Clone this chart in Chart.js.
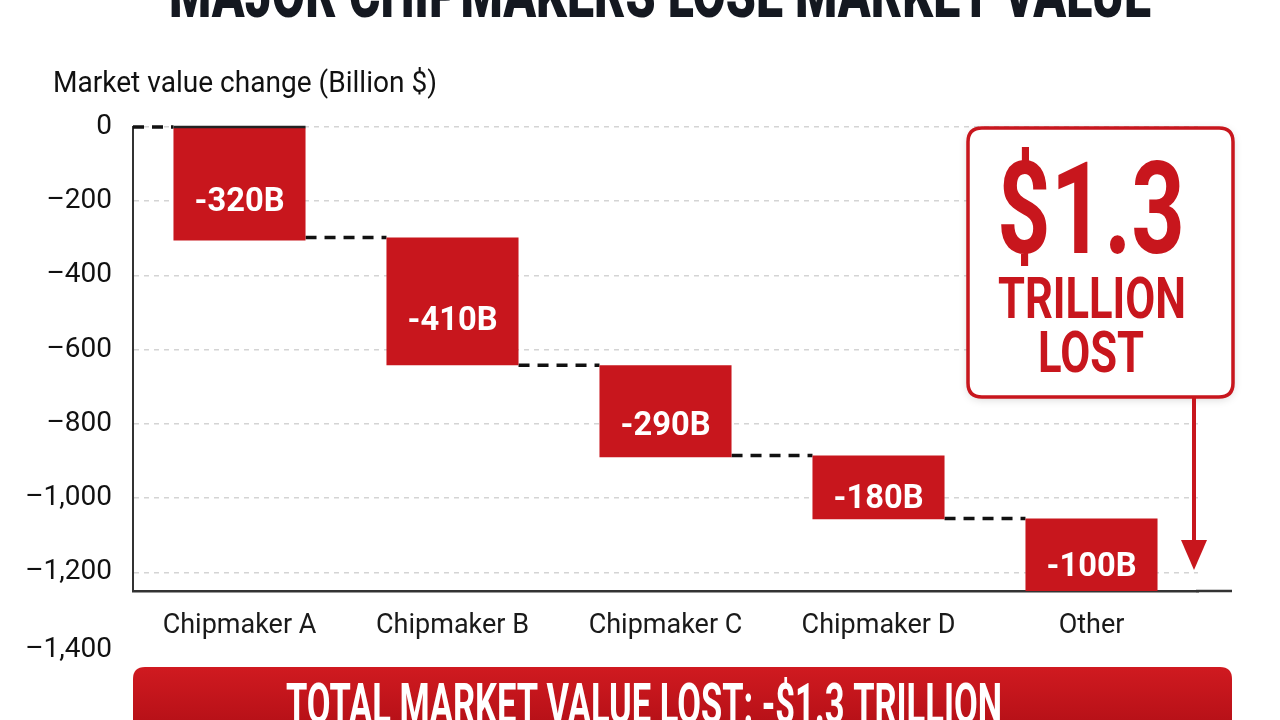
<!DOCTYPE html>
<html>
<head>
<meta charset="utf-8">
<script src="https://cdn.jsdelivr.net/npm/chart.js@4.4.1/dist/chart.umd.min.js"></script>
<style>
  html, body { margin: 0; padding: 0; background: #fff; }
  #wrap { width: 1280px; height: 720px; }
</style>
</head>
<body>
<div id="wrap"><canvas id="waterfall" width="1280" height="720"></canvas></div>
<script>
// --- data ---
const categories = ["Chipmaker A", "Chipmaker B", "Chipmaker C", "Chipmaker D", "Other"];
// value printed on each bar (billion $)
const changeLabels = [-320, -410, -290, -180, -100];
// where each bar starts / ends on the drawn axis
const barStarts = [0, -298, -642, -885, -1055];
const barEnds = [-306, -642, -890, -1057, -1250];
const yTicks = [0, -200, -400, -600, -800, -1000, -1200, -1400];
const totalLost = "$1.3";

const RED = "#c8161d";
const INK = "#141820";
const FONT = "Roboto, 'Noto Sans', sans-serif";

function fmtTick(v) {
    if (v === 0) return "0";
    return "\u2013" + Math.abs(v).toLocaleString("en-US");
}

function drawText(ctx, str, x, y, size, weight, color, align, maxWidth) {
    ctx.save();
    ctx.font = `${weight} ${size}px ${FONT}`;
    ctx.fillStyle = color;
    ctx.textAlign = align || "center";
    ctx.textBaseline = "alphabetic";
    if (maxWidth) ctx.fillText(str, x, y, maxWidth);
    else ctx.fillText(str, x, y);
    ctx.restore();
}

function roundRect(ctx, x, y, w, h, r) {
    ctx.beginPath();
    ctx.moveTo(x + r, y);
    ctx.lineTo(x + w - r, y);
    ctx.quadraticCurveTo(x + w, y, x + w, y + r);
    ctx.lineTo(x + w, y + h - r);
    ctx.quadraticCurveTo(x + w, y + h, x + w - r, y + h);
    ctx.lineTo(x + r, y + h);
    ctx.quadraticCurveTo(x, y + h, x, y + h - r);
    ctx.lineTo(x, y + r);
    ctx.quadraticCurveTo(x, y, x + r, y);
    ctx.closePath();
}

// --- extras drawn around the chart ---
const decorations = {
    id: "decorations",
    beforeDraw(chart) {
        const ctx = chart.ctx;
        ctx.save();
        ctx.fillStyle = "#fff";
        ctx.fillRect(0, 0, chart.width, chart.height);
        ctx.restore();
    },
    beforeDatasetsDraw(chart) {
        // dashed connectors between the bars
        const ctx = chart.ctx;
        const bars = chart.getDatasetMeta(0).data;
        const y = chart.scales.y;
        const area = chart.chartArea;
        ctx.save();
        ctx.strokeStyle = "#111";
        ctx.lineWidth = 3.5;
        ctx.setLineDash([11, 8]);
        ctx.beginPath();
        ctx.moveTo(area.left, y.getPixelForValue(barStarts[0]));
        ctx.lineTo(bars[0].x - bars[0].width / 2, y.getPixelForValue(barStarts[0]));
        for (let i = 0; i < bars.length - 1; i++) {
            const py = y.getPixelForValue(barStarts[i + 1]);
            ctx.moveTo(bars[i].x + bars[i].width / 2, py);
            ctx.lineTo(bars[i + 1].x - bars[i + 1].width / 2, py);
        }
        ctx.stroke();
        ctx.restore();
    },
    afterDatasetsDraw(chart) {
        const ctx = chart.ctx;
        const bars = chart.getDatasetMeta(0).data;
        const y = chart.scales.y;

        // solid line along the top of the first bar
        ctx.save();
        ctx.strokeStyle = "#222";
        ctx.lineWidth = 2.5;
        ctx.beginPath();
        const y0 = y.getPixelForValue(barStarts[0]);
        ctx.moveTo(bars[0].x - bars[0].width / 2, y0);
        ctx.lineTo(bars[0].x + bars[0].width / 2, y0);
        ctx.stroke();
        ctx.restore();

        // value labels inside the bars, a little below the middle
        bars.forEach((bar, i) => {
            const top = Math.min(bar.y, bar.base);
            const bottom = Math.max(bar.y, bar.base);
            const cy = top + (bottom - top) * 0.63;
            drawText(ctx, changeLabels[i] + "B", bar.x, cy + 12, 34, "bold", "#fff", "center", 90);
        });

        // tick labels that fall below the plotted range
        yTicks.filter(v => v < y.min).forEach(v => {
            drawText(ctx, fmtTick(v), 112, y.getPixelForValue(v) + 10, 28, "normal", "#111", "right");
        });
    },
    afterDraw(chart) {
        const ctx = chart.ctx;

        // headline (cut by the top edge)
        drawText(ctx, "MAJOR CHIPMAKERS LOSE MARKET VALUE", 660, 17, 66, "900", INK, "center", 982);
        // axis caption
        drawText(ctx, "Market value change (Billion $)", 53, 92, 30, "normal", "#111", "left", 384);

        // longer x axis line
        ctx.save();
        ctx.strokeStyle = "#333";
        ctx.lineWidth = 2.5;
        ctx.beginPath();
        ctx.moveTo(chart.chartArea.right - 2, chart.chartArea.bottom);
        ctx.lineTo(1232, chart.chartArea.bottom);
        ctx.stroke();
        ctx.restore();

        // callout box
        ctx.save();
        ctx.shadowColor = "rgba(0,0,0,0.18)";
        ctx.shadowBlur = 10;
        ctx.shadowOffsetY = 2;
        roundRect(ctx, 968, 128, 265, 269, 14);
        ctx.fillStyle = "#fff";
        ctx.fill();
        ctx.shadowColor = "transparent";
        ctx.strokeStyle = RED;
        ctx.lineWidth = 3.5;
        ctx.stroke();
        ctx.restore();
        drawText(ctx, totalLost, 1091, 253, 128, "bold", RED, "center", 188);
        drawText(ctx, "TRILLION", 1092, 318, 58, "bold", RED, "center", 188);
        drawText(ctx, "LOST", 1091, 372, 58, "bold", RED, "center", 106);

        // arrow from the box down to the axis
        ctx.save();
        ctx.strokeStyle = RED;
        ctx.fillStyle = RED;
        ctx.lineWidth = 4;
        ctx.beginPath();
        ctx.moveTo(1194, 398);
        ctx.lineTo(1194, 545);
        ctx.stroke();
        ctx.beginPath();
        ctx.moveTo(1181, 540);
        ctx.lineTo(1207, 540);
        ctx.lineTo(1194, 570);
        ctx.closePath();
        ctx.fill();
        ctx.restore();

        // total banner at the bottom
        ctx.save();
        const g = ctx.createLinearGradient(0, 667, 0, 720);
        g.addColorStop(0, "#d01a20");
        g.addColorStop(1, "#b81118");
        roundRect(ctx, 133, 667, 1099, 80, 12);
        ctx.fillStyle = g;
        ctx.fill();
        ctx.restore();
        drawText(ctx, "TOTAL MARKET VALUE LOST: -$1.3 TRILLION", 644, 723, 56, "bold", "#fff", "center", 716);
    }
};

const ctx = document.getElementById("waterfall").getContext("2d");

new Chart(ctx, {
    type: "bar",
    data: {
        labels: categories,
        datasets: [{
            data: categories.map((_, i) => [barStarts[i], barEnds[i]]),
            backgroundColor: RED,
            borderWidth: 0,
            borderSkipped: false,
            barPercentage: 0.62,
            categoryPercentage: 1
        }]
    },
    options: {
        responsive: false,
        animation: false,
        devicePixelRatio: 1,
        layout: { padding: { top: 127, right: 82, left: 0, bottom: 0 } },
        plugins: {
            legend: { display: false },
            tooltip: { enabled: false },
            title: { display: false }
        },
        scales: {
            x: {
                grid: { display: false },
                border: { display: true, color: "#333", width: 2.5 },
                ticks: { color: "#1a1a1a", font: { family: FONT, size: 27 }, padding: 11 },
                afterFit: s => { s.height = 129; }
            },
            y: {
                min: -1250,
                max: 0,
                afterBuildTicks: s => {
                    s.ticks = yTicks.filter(v => v >= s.min && v <= s.max).map(v => ({ value: v }));
                },
                grid: { color: "#d4d4d4", lineWidth: 1.5, drawTicks: false },
                border: { display: true, color: "#333", width: 2, dash: [5, 5] },
                ticks: { color: "#111", font: { family: FONT, size: 28 }, padding: 21, callback: v => fmtTick(v) },
                afterFit: s => { s.width = 133; }
            }
        }
    },
    plugins: [decorations]
});
</script>
</body>
</html>
